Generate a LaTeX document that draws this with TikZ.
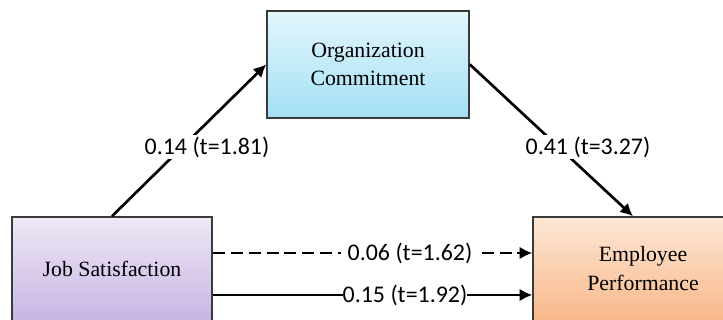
\documentclass[tikz,border=0pt]{standalone}
\usepackage{fontspec}
\setmainfont{Liberation Serif}
\newfontfamily\boxfont{Liberation Serif}
\newfontfamily\lblfont{Carlito}
\usetikzlibrary{arrows.meta,positioning}

\definecolor{boxline}{HTML}{3A3A3A}
\definecolor{ocTop}{HTML}{E3F6FC}
\definecolor{ocBot}{HTML}{A2E0F6}
\definecolor{jsTop}{HTML}{EFE8F6}
\definecolor{jsBot}{HTML}{C8B5E3}
\definecolor{epTop}{HTML}{FDE7D6}
\definecolor{epBot}{HTML}{F8B889}

\tikzset{
  box/.style={draw=boxline, line width=1.1pt, minimum height=2.6cm, align=center,
    font=\boxfont\fontsize{15.5}{20.6}\selectfont},
  lbl/.style={fill=white, inner xsep=3pt, inner ysep=1pt,
    font=\lblfont\fontsize{17}{18}\selectfont},
  link/.style={line width=1.9pt, ->, >={Latex[length=9pt,width=9pt]}},
}

\begin{document}
\begin{tikzpicture}
  \useasboundingbox (0,0) rectangle (18.075,8);
  \clip (0,0) rectangle (18.075,8);

  % the three boxes
  \node[box, top color=ocTop, bottom color=ocBot, minimum width=5.05cm,
        minimum height=2.675cm] (oc) at (9.2,6.39) {Organization\\Commitment};
  \node[box, top color=jsTop, bottom color=jsBot, minimum width=5cm]
        (js) at (2.8,1.275) {Job Satisfaction};
  \node[box, top color=epTop, bottom color=epBot, minimum width=5.5cm]
        (ep) at (16.075,1.275) {Employee\\Performance};

  % paths between them
  \draw[link] (js.north) -- (oc.west);
  \draw[link] (oc.east) -- ([xshift=-0.25cm]ep.north);
  \draw[link, dash pattern=on 8.5pt off 4.25pt] ([yshift=0.4cm]js.east) -- ([yshift=0.4cm]ep.west);
  \draw[link] ([yshift=-0.65cm]js.east) -- ([yshift=-0.65cm]ep.west);

  % coefficients on the paths
  \node[lbl] (w1) at (5.175,4.325) {0.14 (t=1.81)};
  \node[lbl] (w2) at (14.7,4.325) {0.41 (t=3.27)};
  \node[lbl, inner xsep=5pt] (w3) at (10.25,1.675) {0.06 (t=1.62)};
  \node[lbl, inner xsep=0pt] (w4) at (10.125,0.625) {0.15 (t=1.92)};
\end{tikzpicture}
\end{document}
